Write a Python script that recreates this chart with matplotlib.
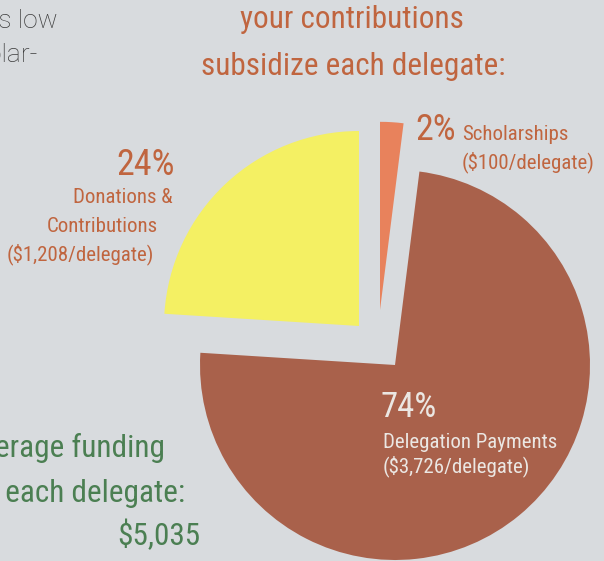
import matplotlib
matplotlib.use("Agg")
import matplotlib.pyplot as plt

# -------------------- data --------------------
labels = ["Donations & Contributions", "Delegation Payments", "Scholarships"]
shares = [24, 74, 2]
per_delegate = [1208, 3726, 100]
total_per_delegate = 5035

BG = "#d8dbde"
colors = ["#f4f063", "#a9614b", "#e8825c"]
ORANGE = "#c0653f"
GREEN = "#4b7f52"
WHITE = "#ebe7e3"

# how far each slice is pulled out (pixels, x right / y up) and its size
offsets = [(-32.7, 35.0), (3.3, -4.0), (-11.7, 51.0)]
radii = [1.0, 1.0, 0.965]

W, H = 604, 561
fig = plt.figure(figsize=(W / 100, H / 100), dpi=100, facecolor=BG)
ax = fig.add_axes([0, 0, 1, 1])
ax.set_facecolor(BG)

# pie: 1 unit = R pixels, pie centre at (CX, CY) in image pixels
R = 195.0
CX, CY = 391.7, 361.0
wedges, _ = ax.pie(shares, colors=colors, startangle=90, counterclock=True,
                   radius=1, wedgeprops=dict(linewidth=0))
for w, (dx, dy), r in zip(wedges, offsets, radii):
    w.set_center((dx / R, dy / R))
    w.set_radius(r)
ax.set_xlim(-CX / R, (W - CX) / R)
ax.set_ylim(-(H - CY) / R, CY / R)
ax.set_aspect("equal")
ax.axis("off")

FONT = "Roboto Condensed"


def px(x, y):
    return x / W, 1 - y / H


def put(x, y, s, size, color, ha="left", family=FONT, weight="normal"):
    fig.text(*px(x, y), s, ha=ha, va="baseline", fontsize=size,
             color=color, family=family, fontweight=weight)


# cut-off body text, top left
put(58, 28, "costs low", 19, "#3c3c3c", ha="right", family="Roboto", weight="light")
put(38, 62, "scholar-", 19, "#3c3c3c", ha="right", family="Roboto", weight="light")

# title
put(352, 28, "your contributions", 22.5, ORANGE, ha="center")
put(353, 75, "subsidize each delegate:", 22.5, ORANGE, ha="center")

# donations
put(175, 175, f"{shares[0]}%", 26, ORANGE, ha="right")
put(173, 203, "Donations &", 15, ORANGE, ha="right")
put(158, 232, "Contributions", 15, ORANGE, ha="right")
put(154, 260, f"(${per_delegate[0]:,}/delegate)", 15, ORANGE, ha="right")

# scholarships
put(415, 140, f"{shares[2]}%", 26, ORANGE)
put(462, 140, labels[2], 15, ORANGE)
put(462, 168, f"(${per_delegate[2]:,}/delegate)", 15, ORANGE)

# delegation payments
put(381, 417, f"{shares[1]}%", 25, WHITE)
put(383, 448, labels[1], 15, WHITE)
put(383, 472, f"(${per_delegate[1]:,}/delegate)", 15, WHITE)

# total
put(165, 457, "Total average funding", 22.5, GREEN, ha="right")
put(185, 502, "for each delegate:", 22.5, GREEN, ha="right")
put(200, 545, f"${total_per_delegate:,}", 22.5, GREEN, ha="right")

fig.savefig("out.png", dpi=100, facecolor=BG)
